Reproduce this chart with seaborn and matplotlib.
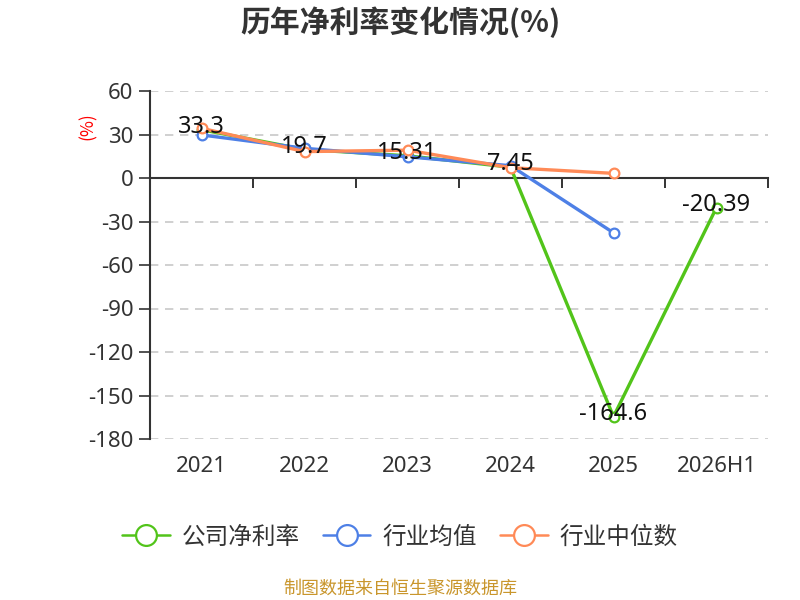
import numpy as np
import pandas as pd
import matplotlib
matplotlib.use("Agg")
import matplotlib.pyplot as plt
from matplotlib.lines import Line2D
import seaborn as sns

categories = ["2021", "2022", "2023", "2024", "2025", "2026H1"]
company = [33.3, 19.7, 15.31, 7.45, -164.6, -20.39]
industry_avg = [29.7, 20.5, 14.6, 8.5, -37.8, np.nan]
industry_median = [34.3, 18.2, 19.2, 7.1, 3.2, np.nan]
company_labels = ["33.3", "19.7", "15.31", "7.45", "-164.6", "-20.39"]
series_names = ["公司净利率", "行业均值", "行业中位数"]
colors = ["#52C41A", "#4E80E6", "#FF8A57"]
yticks = [60, 30, 0, -30, -60, -90, -120, -150, -180]

sns.set_theme(style="white")
plt.rcParams["font.family"] = ["Noto Sans CJK SC", "DejaVu Sans"]
NUM_FONT = ["Noto Sans", "DejaVu Sans"]

fig = plt.figure(figsize=(8, 6), dpi=100)

# zero axis line with category boundary ticks (drawn underneath)
zax = fig.add_axes([150/800, 1-178/600, 618/800, 0.5/600])
zax.patch.set_visible(False)
for s in ["top", "left", "right"]:
    zax.spines[s].set_visible(False)
zax.spines["bottom"].set_color("#333333")
zax.spines["bottom"].set_linewidth(1.5)
zax.set_yticks([])
zax.set_xlim(-0.5, 5.5)
zax.set_xticks(np.arange(-0.5, 6.0, 1.0))
zax.tick_params(axis="x", length=7, width=1.4, color="#333333", direction="out",
                labelbottom=False, bottom=True)

ax = fig.add_axes([150/800, 1-439/600, 618/800, 348/600])
ax.patch.set_visible(False)

x = np.arange(len(categories))
df = pd.DataFrame({"x": x, series_names[0]: company,
                   series_names[1]: industry_avg, series_names[2]: industry_median})

for i, name in enumerate(series_names):
    sub = df[["x", name]].dropna()
    sns.lineplot(data=sub, x="x", y=name, ax=ax, color=colors[i], linewidth=2.4,
                 marker="o", markersize=7, markerfacecolor="white",
                 markeredgecolor=colors[i], markeredgewidth=1.6, zorder=3 + i)

for xi, v, lab in zip(x, company, company_labels):
    ax.text(xi, v + 2, lab, ha="center", va="center", fontsize=17, color="#111111",
            family=NUM_FONT, zorder=10)

ax.set_xlim(-0.5, 5.5)
ax.set_ylim(-180, 60)
ax.set_yticks(yticks)
ax.set_yticklabels([str(t) for t in yticks], fontsize=16, color="#333333", family=NUM_FONT)
ax.set_xticks(x)
ax.set_xticklabels(categories, fontsize=16, color="#333333", family=NUM_FONT)
ax.set_xlabel("")
ax.set_ylabel("")
ax.tick_params(axis="x", length=0, pad=12)
ax.tick_params(axis="y", length=8, width=1.2, color="#333333", pad=4, left=True, direction="out")

for t in yticks:
    if t != 0:
        ax.axhline(t, color="#C8C8C8", linestyle=(0, (5, 4)), linewidth=1.2, zorder=1)

for s in ["top", "right", "bottom"]:
    ax.spines[s].set_visible(False)
ax.spines["left"].set_color("#333333")
ax.spines["left"].set_linewidth(1.5)

fig.text(88/800, 1-126/600, "(%)", rotation=90, color="red", fontsize=12.5,
         ha="center", va="center")

fig.text(0.5, 1-22/600, "历年净利率变化情况(%)", ha="center", va="center",
         fontsize=21.5, fontweight="bold", color="#333333")

handles = [Line2D([0], [0], color=c, linewidth=1.8, marker="o", markersize=15,
                  markerfacecolor="white", markeredgecolor=c, markeredgewidth=1.6)
           for c in colors]
fig.legend(handles, series_names, loc="center", bbox_to_anchor=(0.5, 1-537/600),
           ncol=3, frameon=False, fontsize=17, handlelength=2.0, columnspacing=1.0,
           handletextpad=0.5, labelcolor="#333333")

fig.text(0.5, 1-589/600, "制图数据来自恒生聚源数据库", ha="center", va="center",
         fontsize=13, color="#C9962C")

fig.savefig("out.png", dpi=100)
